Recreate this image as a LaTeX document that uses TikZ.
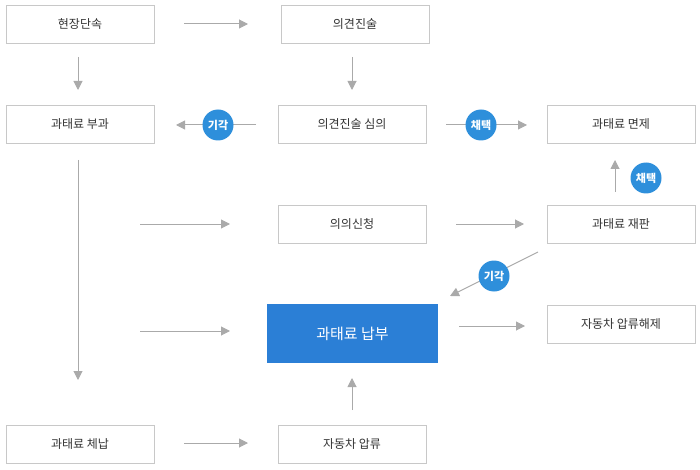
\documentclass[tikz,border=0pt]{standalone}
\usepackage{fontspec}
\setmainfont{Noto Sans CJK KR}
\usetikzlibrary{arrows.meta}
\definecolor{bd}{HTML}{C8C8C8}
\definecolor{ar}{HTML}{AAAAAA}
\definecolor{tx}{HTML}{333333}
\definecolor{bl}{HTML}{2B7FD6}
\definecolor{ci}{HTML}{2E8FDB}
\begin{document}
\begin{tikzpicture}[x=1pt,y=-1pt,
 box/.style={draw=bd,line width=0.8pt,fill=white,minimum width=148pt,minimum height=38pt,inner sep=0pt,font=\fontsize{12}{14}\selectfont,text=tx},
 arr/.style={draw=ar,line width=1pt,-{Triangle[length=9pt,width=9pt]}},
 lab/.style={circle,fill=ci,minimum size=31pt,inner sep=0pt,text=white,font=\fontsize{11}{13}\selectfont\bfseries}]
\useasboundingbox (0,0) rectangle (700,470);
\node[box] (a) at (80,24) {현장단속};
\node[box] (b) at (355,24) {의견진술};
\node[box] (c) at (80,124) {과태료 부과};
\node[box] (d) at (352,124) {의견진술 심의};
\node[box] (e) at (621,124) {과태료 면제};
\node[box] (f) at (352,224) {의의신청};
\node[box] (g) at (621,224) {과태료 재판};
\node[box,draw=none,fill=bl,text=white,minimum width=171pt,minimum height=59pt,font=\fontsize{15}{18}\selectfont] (h) at (352.5,333.5) {과태료 납부};
\node[box] (i) at (621,324) {자동차 압류해제};
\node[box] (j) at (80,444) {과태료 체납};
\node[box] (k) at (352,444) {자동차 압류};
\foreach \n/\x/\y in {p1/184/24,q1/248/24,p2/78/57,q2/78/90,p3/352/57,q3/352/90,p4/256/125,q4/176/125,p5/446/125,q5/527/125,p6/615/192,q6/615/160,p7/78/160,q7/78/380,p8/140/224,q8/230/224,p9/456/224,q9/524/224,p10/538/252,q10/450/296,p11/140/331,q11/230/331,p12/459/326,q12/525/326,p13/184/443,q13/248/443,p14/352/410,q14/352/378}
 \coordinate (\n) at (\x,\y);
\foreach \i in {1,...,14} \draw[arr] (p\i) -- (q\i);
\node[lab] (l1) at (218,125) {기각};
\node[lab] (l2) at (481,125) {채택};
\node[lab] (l3) at (646,178) {채택};
\node[lab] (l4) at (494,276) {기각};
\end{tikzpicture}
\end{document}
